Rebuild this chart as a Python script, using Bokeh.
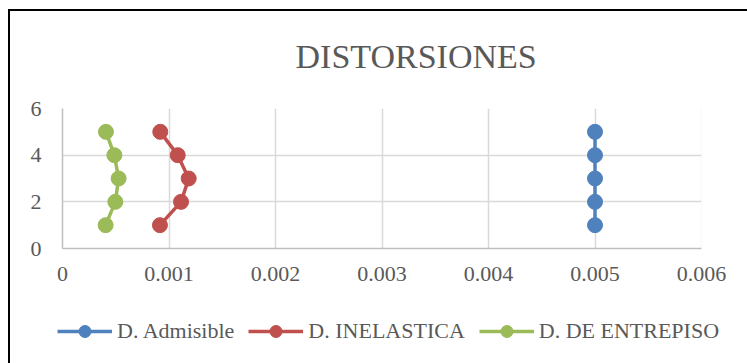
from bokeh.plotting import figure
from bokeh.models import Legend, LegendItem, FixedTicker, BoxAnnotation, Range1d
from bokeh.embed import file_html
from bokeh.resources import INLINE

# Story levels and drift values per series
pisos = [1, 2, 3, 4, 5]
d_admisible = [0.005, 0.005, 0.005, 0.005, 0.005]
d_inelastica = [0.000915, 0.001113, 0.001185, 0.001082, 0.000918]
d_entrepiso = [0.000405, 0.000496, 0.000527, 0.000487, 0.000408]

series_names = ["D. Admisible", "D. INELASTICA", "D. DE ENTREPISO"]
series_colors = ["#4f81bd", "#c0504d", "#9bbb59"]

x_ticks = [0, 0.001, 0.002, 0.003, 0.004, 0.005, 0.006]
x_tick_labels = ["0", "0.001", "0.002", "0.003", "0.004", "0.005", "0.006"]
y_ticks = [0, 2, 4, 6]

FONT = "Liberation Serif"
TEXT = "#595959"
series_x = [d_admisible, d_inelastica, d_entrepiso]

# --- main chart -------------------------------------------------------------
p = figure(width=747, height=300,
           output_backend="svg", toolbar_location=None,
           x_range=Range1d(0, 0.006), y_range=Range1d(0, 6),
           min_border_left=62, min_border_right=46,
           min_border_top=108, min_border_bottom=52,
           title="DISTORSIONES")
p.background_fill_color = "white"
p.border_fill_alpha = 0
p.outline_line_color = None
# chart area frame: black left and top edges
p.styles = {
    "background-color": "white",
    "background-image": "linear-gradient(black, black), linear-gradient(black, black)",
    "background-size": "2px calc(100% - 9px), calc(100% - 8px) 2px",
    "background-position": "8px 9px, 8px 9px",
    "background-repeat": "no-repeat",
}

p.title.align = "left"
p.title.offset = 233
p.title.standoff = 68
p.title.text_font = FONT
p.title.text_font_size = "34px"
p.title.text_font_style = "normal"
p.title.text_color = TEXT

for ax in (p.xaxis[0], p.yaxis[0]):
    ax.axis_line_color = "#bfbfbf"
    ax.axis_line_width = 1.5
    ax.major_tick_line_color = None
    ax.minor_tick_line_color = None
    ax.major_tick_out = 0
    ax.major_tick_in = 0
    ax.minor_tick_out = 0
    ax.major_label_text_font = FONT
    ax.major_label_text_font_size = "22px"
    ax.major_label_text_color = TEXT

p.xaxis.ticker = FixedTicker(ticks=x_ticks)
p.xaxis.major_label_overrides = {t: s for t, s in zip(x_ticks, x_tick_labels)}
p.xaxis.major_label_standoff = 18
p.yaxis.ticker = FixedTicker(ticks=y_ticks)
p.yaxis.major_label_standoff = 21

p.xgrid.ticker = FixedTicker(ticks=x_ticks)
p.ygrid.ticker = FixedTicker(ticks=y_ticks)
p.grid.grid_line_color = "#d9d9d9"
p.grid.grid_line_width = 1.5

# right edge of the plot area
p.add_layout(BoxAnnotation(left=0.006, right=0.006, bottom=0, top=6,
                           line_color="#d9d9d9", line_width=1.5, fill_alpha=0))

for color, xs in zip(series_colors, series_x):
    p.line(xs, pisos, line_color=color, line_width=3.5)
    p.scatter(xs, pisos, size=15, fill_color=color, line_color=color)

# --- legend strip (its view range holds none of the points) ----------------
lg = figure(width=747, height=63, output_backend="svg", toolbar_location=None,
            x_range=Range1d(10, 11), y_range=Range1d(10, 11),
            x_axis_type=None, y_axis_type=None,
            min_border_left=0, min_border_right=0,
            min_border_top=0, min_border_bottom=0)
lg.background_fill_alpha = 0
lg.border_fill_alpha = 0
lg.outline_line_color = None
lg.grid.visible = False
lg.styles = {
    "background-color": "white",
    "background-image": "linear-gradient(black, black)",
    "background-size": "2px 100%",
    "background-position": "8px 0px",
    "background-repeat": "no-repeat",
}

items = []
for name, color, xs in zip(series_names, series_colors, series_x):
    ln = lg.line(xs, pisos, line_color=color, line_width=3.5)
    sc = lg.scatter(xs, pisos, size=15, fill_color=color, line_color=color)
    items.append(LegendItem(label=name, renderers=[ln, sc]))

legend = Legend(items=items, orientation="horizontal", location=(57, 17),
                glyph_width=55, glyph_height=30, label_standoff=5, spacing=14,
                label_text_font=FONT, label_text_font_size="22px",
                label_text_color=TEXT, padding=0, margin=0,
                border_line_alpha=0, background_fill_alpha=0)
lg.add_layout(legend, "center")

open("out.html", "w").write(file_html([p, lg], INLINE))
